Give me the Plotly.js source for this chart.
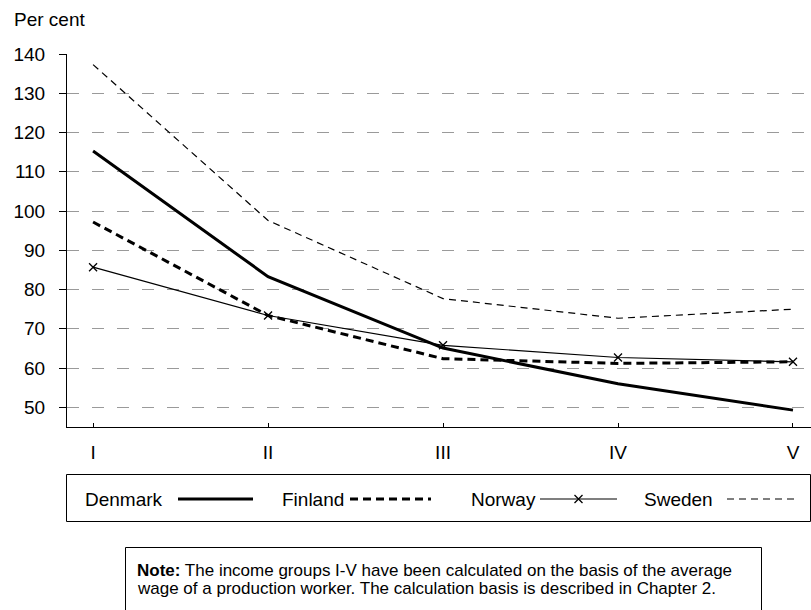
<!DOCTYPE html>
<html>
<head>
<meta charset="utf-8">
<script src="https://cdn.plot.ly/plotly-3.0.1.min.js"></script>
<style>
  html, body { margin: 0; padding: 0; background: #ffffff; }
  #chart { width: 811px; height: 610px; }
</style>
</head>
<body>
<div id="chart"></div>
<script>
// Income groups on the category axis
const categories = ['I', 'II', 'III', 'IV', 'V'];

// Per cent values by income group
const denmark = [115.3, 83.3, 65.1, 56.0, 49.3];
const finland = [97.2, 73.4, 62.4, 61.2, 61.6];
const norway  = [85.7, 73.4, 65.8, 62.7, 61.6];
const sweden  = [137.3, 97.6, 77.7, 72.7, 75.0];

const seriesNames = ['Denmark', 'Finland', 'Norway', 'Sweden'];
const yTicks = [50, 60, 70, 80, 90, 100, 110, 120, 130, 140];

const W = 811, H = 610;
const FONT = 'Liberation Sans, Arial, sans-serif';

// Line styles per series
const styles = [
  { width: 3,   dash: 'solid',     marker: false },
  { width: 3,   dash: '8px,5px',   marker: false },
  { width: 1.2, dash: 'solid',     marker: true  },
  { width: 1.2, dash: '7px,5px',   marker: false }
];
const values = [denmark, finland, norway, sweden];

// pixel helpers for paper-referenced layout items
const px = x => x / W;
const py = y => 1 - y / H;

const traces = values.map((v, i) => ({
  type: 'scatter',
  x: categories,
  y: v,
  name: seriesNames[i],
  mode: styles[i].marker ? 'lines+markers' : 'lines',
  line: { color: '#000000', width: styles[i].width, dash: styles[i].dash },
  marker: { symbol: 'x-thin-open', size: 8, color: '#000000', line: { width: 1.3, color: '#000000' } },
  xaxis: 'x', yaxis: 'y',
  showlegend: false,
  cliponaxis: false
}));

// Custom legend row: names on the left, line samples on the right
const legendText = [83, 280, 469, 642];
const legendLine = [[178, 253], [350, 431], [540, 617], [727, 798]];
const legendY = 499;
const annotations = [];
seriesNames.forEach((n, i) => {
  annotations.push({
    xref: 'paper', yref: 'paper', x: px(legendText[i]), y: py(legendY),
    xanchor: 'left', yanchor: 'middle', showarrow: false,
    text: n, font: { family: FONT, size: 19, color: '#000000' }
  });
  traces.push({
    type: 'scatter', xaxis: 'x2', yaxis: 'y2', mode: 'lines',
    x: legendLine[i], y: [legendY, legendY],
    line: { color: '#000000', width: styles[i].width, dash: styles[i].dash },
    showlegend: false, hoverinfo: 'skip'
  });
  if (styles[i].marker) {
    traces.push({
      type: 'scatter', xaxis: 'x2', yaxis: 'y2', mode: 'markers',
      x: [(legendLine[i][0] + legendLine[i][1]) / 2], y: [legendY],
      marker: { symbol: 'x-thin-open', size: 8, color: '#000000', line: { width: 1.3, color: '#000000' } },
      showlegend: false, hoverinfo: 'skip'
    });
  }
});

// Axis caption
annotations.push({
  xref: 'paper', yref: 'paper', x: px(12), y: py(19),
  xanchor: 'left', yanchor: 'middle', showarrow: false,
  text: 'Per cent', font: { family: FONT, size: 19, color: '#000000' }
});

// Note text box
annotations.push({
  xref: 'paper', yref: 'paper', x: px(135), y: py(570),
  xanchor: 'left', yanchor: 'middle', showarrow: false,
  text: '<b>Note:</b> The income groups I-V have been calculated on the basis of the average',
  font: { family: FONT, size: 17, color: '#000000' }
});
annotations.push({
  xref: 'paper', yref: 'paper', x: px(135), y: py(588),
  xanchor: 'left', yanchor: 'middle', showarrow: false,
  text: 'wage of a production worker. The calculation basis is described in Chapter 2.',
  font: { family: FONT, size: 17, color: '#000000' }
});

const shapes = [
  { type: 'rect', xref: 'paper', yref: 'paper',
    x0: px(66.5), x1: px(810.5), y0: py(474.5), y1: py(521.5),
    line: { color: '#000000', width: 1 }, fillcolor: 'rgba(0,0,0,0)' },
  { type: 'rect', xref: 'paper', yref: 'paper',
    x0: px(125.5), x1: px(761.5), y0: py(547.5), y1: py(640),
    line: { color: '#000000', width: 1 }, fillcolor: 'rgba(0,0,0,0)' }
];

const layout = {
  width: W, height: H,
  margin: { l: 0, r: 0, t: 0, b: 0 },
  paper_bgcolor: '#ffffff',
  plot_bgcolor: 'rgba(0,0,0,0)',
  showlegend: false,
  font: { family: FONT, size: 19, color: '#000000' },
  xaxis: {
    domain: [px(67), 1],
    type: 'category',
    range: [-0.149, 4.103],
    showgrid: false, zeroline: false,
    showline: true, linecolor: '#000000', linewidth: 1,
    ticks: 'inside', ticklen: 4, tickcolor: '#000000', tickwidth: 1,
    ticklabelstandoff: 8,
    tickfont: { family: FONT, size: 19, color: '#000000' },
    fixedrange: true
  },
  yaxis: {
    domain: [py(427), py(54)],
    range: [45, 140],
    tickvals: yTicks,
    showgrid: true, gridcolor: '#9a9a9a', gridwidth: 1, griddash: '12px,13px',
    zeroline: false,
    showline: true, linecolor: '#000000', linewidth: 1,
    ticks: 'outside', ticklen: 7, tickcolor: '#000000', tickwidth: 1,
    ticklabelstandoff: 10,
    tickfont: { family: FONT, size: 19, color: '#000000' },
    fixedrange: true
  },
  // Pixel-space overlay used for the legend samples
  xaxis2: { domain: [0, 1], range: [0, W], visible: false, anchor: 'y2', fixedrange: true },
  yaxis2: { domain: [0, 1], range: [H, 0], visible: false, anchor: 'x2', fixedrange: true },
  annotations: annotations,
  shapes: shapes
};

Plotly.newPlot('chart', traces, layout, { displayModeBar: false, staticPlot: true });
</script>
</body>
</html>
